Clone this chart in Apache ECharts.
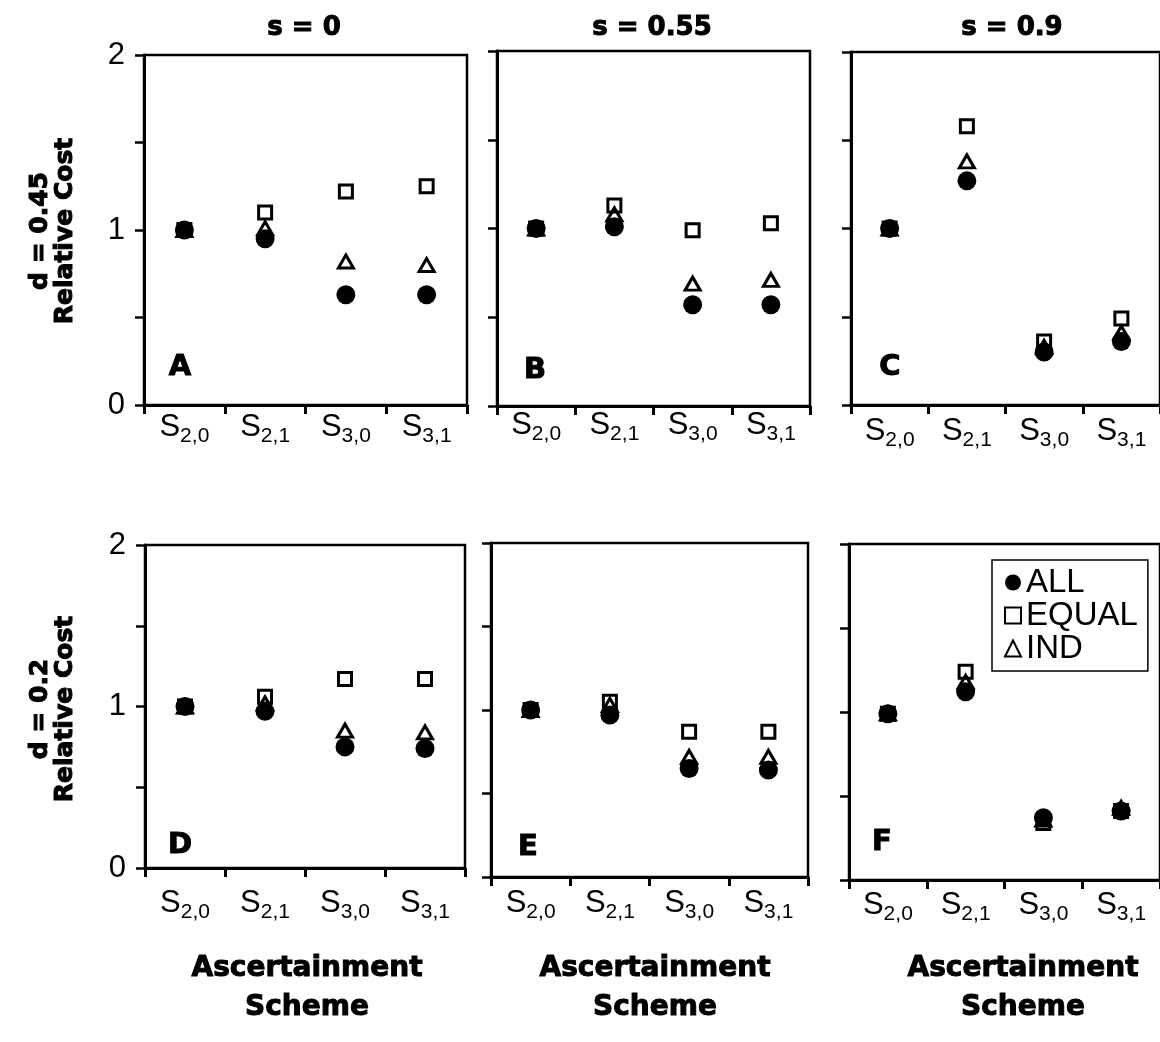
<!DOCTYPE html>
<html>
<head>
<meta charset="utf-8">
<script src="https://cdn.jsdelivr.net/npm/echarts@6/dist/echarts.min.js"></script>
<style>
  html, body { margin: 0; padding: 0; background: #fff; }
  #chart { width: 1160px; height: 1042px; }
</style>
</head>
<body>
<div id="chart"></div>
<script>
// ---------- data ----------
const categories = ['S2,0', 'S2,1', 'S3,0', 'S3,1'];
const yLabelTicks = [0, 1, 2];
const seriesNames = ['ALL', 'EQUAL', 'IND'];
const colTitles = ['s = 0', 's = 0.55', 's = 0.9'];
const rowTitles = ['d = 0.45', 'd = 0.2'];
const yAxisName = 'Relative Cost';
const xAxisName = ['Ascertainment', 'Scheme'];
const panelLetters = ['A', 'B', 'C', 'D', 'E', 'F'];

// panel A: d = 0.45, s = 0
const allA   = [1.00, 0.95, 0.63, 0.63];
const equalA = [1.00, 1.10, 1.22, 1.25];
const indA   = [1.00, 1.01, 0.82, 0.80];
// panel B: d = 0.45, s = 0.55
const allB   = [1.00, 1.01, 0.57, 0.57];
const equalB = [1.00, 1.13, 0.99, 1.03];
const indB   = [1.00, 1.08, 0.69, 0.71];
// panel C: d = 0.45, s = 0.9
const allC   = [1.00, 1.27, 0.30, 0.36];
const equalC = [1.00, 1.58, 0.36, 0.49];
const indC   = [1.00, 1.38, 0.33, 0.41];
// panel D: d = 0.2, s = 0
const allD   = [1.00, 0.97, 0.75, 0.74];
const equalD = [1.00, 1.06, 1.17, 1.17];
const indD   = [1.00, 1.02, 0.85, 0.84];
// panel E: d = 0.2, s = 0.55
const allE   = [1.00, 0.97, 0.65, 0.64];
const equalE = [1.00, 1.05, 0.87, 0.87];
const indE   = [1.00, 1.03, 0.72, 0.72];
// panel F: d = 0.2, s = 0.9
const allF   = [0.99, 1.12, 0.37, 0.41];
const equalF = [0.99, 1.24, 0.34, 0.41];
const indF   = [0.99, 1.18, 0.36, 0.43];

const panelData = [
  { all: allA, equal: equalA, ind: indA },
  { all: allB, equal: equalB, ind: indB },
  { all: allC, equal: equalC, ind: indC },
  { all: allD, equal: equalD, ind: indD },
  { all: allE, equal: equalE, ind: indE },
  { all: allF, equal: equalF, ind: indF }
];

// ---------- layout ----------
const grids = [
  { left: 144, top: 55,  width: 323, height: 350 },
  { left: 497, top: 51,  width: 313, height: 355 },
  { left: 851, top: 52,  width: 314, height: 353 },
  { left: 145, top: 545, width: 320, height: 323 },
  { left: 491, top: 543, width: 317, height: 334 },
  { left: 849, top: 544, width: 316, height: 336 }
];
const xLabelMargins = [4, 1, 8, 17, 8, 7];
const letterPos = [[180, 367], [535, 370], [890, 367], [180, 845], [528, 847], [882, 842]];
const colCenters = [304, 652, 1012];
const bottomCenters = [307, 655, 1023];

const BOLD = 'DejaVu Sans';
const REG = 'Liberation Sans';
const heavy = (extra) => Object.assign({
  fontFamily: BOLD, fontWeight: 'bold', fill: '#000', stroke: '#000', lineWidth: 1,
  textAlign: 'center', textVerticalAlign: 'middle'
}, extra);

const option = {
  backgroundColor: '#fff',
  animation: false,
  grid: grids.map(g => ({
    left: g.left, top: g.top, width: g.width, height: g.height,
    show: true, borderColor: '#000', borderWidth: 2.5, backgroundColor: 'transparent'
  })),
  xAxis: grids.map((g, i) => ({
    type: 'category', gridIndex: i, data: categories, boundaryGap: true,
    axisLine: { lineStyle: { color: '#000', width: 3 } },
    axisTick: { show: true, inside: false, length: 9, lineStyle: { color: '#000', width: 3 } },
    splitLine: { show: false },
    axisLabel: {
      interval: 0,
      hideOverlap: false,
      margin: xLabelMargins[i],
      formatter: v => '{s|' + v.charAt(0) + '}{sub|' + v.slice(1) + '}',
      rich: {
        s: { fontFamily: REG, fontSize: 31, color: '#000', lineHeight: 36 },
        sub: { fontFamily: REG, fontSize: 21, color: '#000', lineHeight: 21, padding: [18, 0, 0, 0] }
      }
    }
  })),
  yAxis: grids.map((g, i) => ({
    type: 'value', gridIndex: i, min: 0, max: 2, interval: 0.5,
    axisLine: { show: true, lineStyle: { color: '#000', width: 3 } },
    axisTick: { show: true, inside: false, length: 9, lineStyle: { color: '#000', width: 2.5 } },
    splitLine: { show: false },
    axisLabel: {
      show: i % 3 === 0,
      margin: 19,
      fontFamily: REG, fontSize: 31, color: '#000',
      formatter: v => (yLabelTicks.indexOf(v) >= 0 ? String(v) : '')
    }
  })),
  legend: {
    data: seriesNames,
    orient: 'vertical',
    left: 992, top: 560,
    padding: [6, 10, 6, 12],
    itemGap: 0,
    itemWidth: 16, itemHeight: 16,
    borderColor: '#000', borderWidth: 1.5,
    backgroundColor: '#fff',
    textStyle: { fontFamily: REG, fontSize: 33, color: '#000', lineHeight: 29, height: 29 }
  },
  series: [],
  graphic: []
};

panelData.forEach((p, i) => {
  option.series.push({
    name: 'IND', type: 'scatter', xAxisIndex: i, yAxisIndex: i,
    data: p.ind, symbol: 'triangle', symbolSize: [15, 13],
    itemStyle: { color: '#fff', borderColor: '#000', borderWidth: 3, opacity: 1 }
  });
  option.series.push({
    name: 'ALL', type: 'scatter', xAxisIndex: i, yAxisIndex: i,
    data: p.all, symbol: 'circle', symbolSize: 19,
    itemStyle: { color: '#000', opacity: 1 }
  });
  option.series.push({
    name: 'EQUAL', type: 'scatter', xAxisIndex: i, yAxisIndex: i,
    data: p.equal, symbol: 'rect', symbolSize: 13,
    itemStyle: { color: 'rgba(255,255,255,0)', borderColor: '#000', borderWidth: 3, opacity: 1 }
  });
});

// panel letters
panelLetters.forEach((L, i) => {
  option.graphic.push({
    type: 'text', x: letterPos[i][0], y: letterPos[i][1], z: 10,
    style: heavy({ text: L, fontSize: 29 })
  });
});
// column titles
colTitles.forEach((t, i) => {
  option.graphic.push({
    type: 'text', x: colCenters[i], y: 28,
    style: heavy({ text: t, fontSize: 26 })
  });
});
// row titles (rotated)
const rowCenters = [231, 709];
rowTitles.forEach((t, i) => {
  option.graphic.push({
    type: 'text', x: 40, y: rowCenters[i], rotation: Math.PI / 2,
    style: heavy({ text: t, fontSize: 25 })
  });
  option.graphic.push({
    type: 'text', x: 65, y: rowCenters[i], rotation: Math.PI / 2,
    style: heavy({ text: yAxisName, fontSize: 25 })
  });
});
// bottom axis names
bottomCenters.forEach(cx => {
  option.graphic.push({
    type: 'text', x: cx, y: 969,
    style: heavy({ text: xAxisName[0], fontSize: 28 })
  });
  option.graphic.push({
    type: 'text', x: cx, y: 1008,
    style: heavy({ text: xAxisName[1], fontSize: 28 })
  });
});

const chart = echarts.init(document.getElementById('chart'), null, { renderer: 'canvas' });
chart.setOption(option);
</script>
</body>
</html>
